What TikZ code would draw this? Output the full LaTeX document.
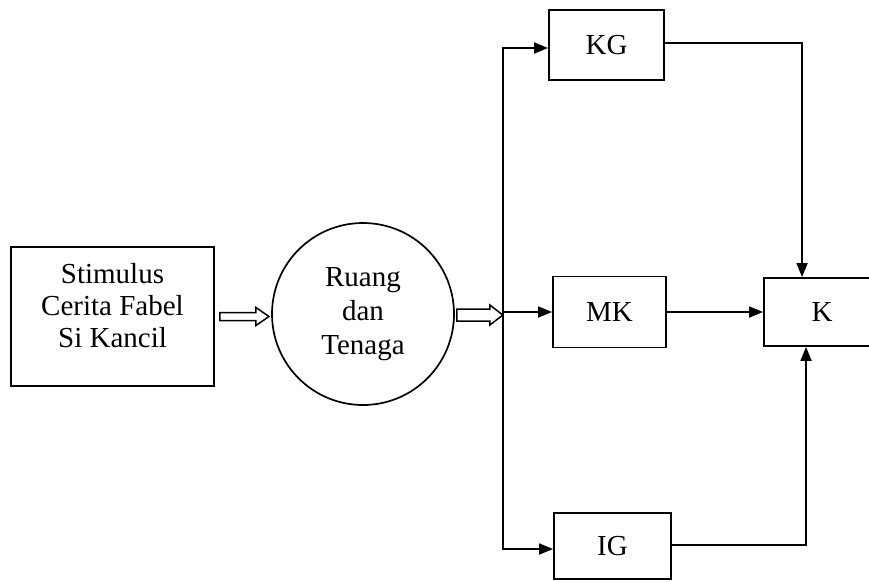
\documentclass[tikz,border=0pt]{standalone}
\usepackage{fontspec}
\setmainfont{Liberation Serif}
\usetikzlibrary{arrows.meta}
\begin{document}
\begin{tikzpicture}[x=1pt,y=-1pt,
  every node/.style={font=\fontsize{29}{32}\selectfont},
  box/.style={draw, line width=1.9pt, rectangle, inner sep=0pt, align=center},
  conn/.style={line width=1.8pt, -{Triangle[length=14pt,width=11pt]}}]
\useasboundingbox (0,0) rectangle (869,581);
\clip (0,0) rectangle (869,581);
\node[box, minimum width=203pt, minimum height=139pt, text depth=22pt] (stim) at (112.5,316.5) {Stimulus\\Cerita Fabel\\Si Kancil};
\node[draw, circle, line width=1.7pt, minimum size=182pt, inner sep=0pt, align=center, font=\fontsize{29}{34}\selectfont] (ruang) at (363,314) {Ruang\\dan\\Tenaga};
\node[box, minimum width=115pt, minimum height=70pt] (kg) at (606.5,45) {KG};
\node[box, minimum width=113pt, minimum height=71pt] (mk) at (609.5,312) {MK};
\node[box, minimum width=117pt, minimum height=66pt] (ig) at (612.5,546) {IG};
\node[box, minimum width=116pt, minimum height=68pt] (k) at (822,312) {K};
\coordinate (j) at (503,312);
% hollow arrows
\draw[line width=1.5pt, line join=miter]
  ([xshift=5pt,yshift=4pt]stim.east) -- ++(36,0) -- ++(0,-5) -- ++(13,9) -- ++(-13,9) -- ++(0,-5) -- ++(-36,0) -- cycle;
\draw[line width=1.5pt, line join=miter]
  ([xshift=2pt,yshift=5pt]ruang.east) -- ++(33,0) -- ++(0,-4) -- ++(13,10) -- ++(-13,10) -- ++(0,-4) -- ++(-33,0) -- cycle;
% bus and connectors
\draw[conn] (j) |- ([yshift=-3pt]kg.west);
\draw[conn] (j) -- (mk.west);
\draw[conn] (j) |- ([yshift=-3pt]ig.west);
\draw[conn] ([yshift=2pt]kg.east) -| ([xshift=39pt]k.north west);
\draw[conn] (mk.east) -- (k.west);
\draw[conn] ([yshift=1pt]ig.east) -| ([xshift=43pt]k.south west);
\end{tikzpicture}
\end{document}
